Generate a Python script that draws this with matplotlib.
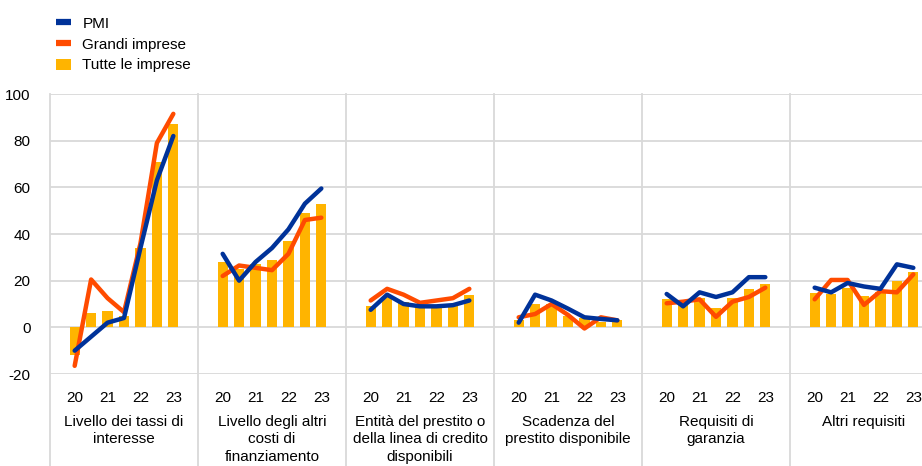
import matplotlib
matplotlib.use("Agg")
import matplotlib.pyplot as plt
import numpy as np

plt.rcParams['font.family'] = ['Liberation Sans', 'DejaVu Sans']
plt.rcParams['axes.unicode_minus'] = False

categories = ["Livello dei tassi di\ninteresse",
              "Livello degli altri\ncosti di\nfinanziamento",
              "Entità del prestito o\ndella linea di credito\ndisponibili",
              "Scadenza del\nprestito disponibile",
              "Requisiti di\ngaranzia",
              "Altri requisiti"]
year_labels = ["20", "21", "22", "23"]

tutte = [
    [-12, 6, 7, 5, 34, 71, 87],
    [28, 25, 27, 29, 37, 49, 53],
    [9, 13, 11, 9, 9, 9, 14],
    [3, 10, 10, 5, 4, 2.5, 3],
    [12, 10, 12.5, 8.5, 12.5, 16.5, 18.5],
    [14.7, 14.3, 17, 13.4, 15, 20, 23.7],
]
pmi = [
    [-10, -4, 2, 4, 34, 63, 82],
    [31.5, 20, 28, 34, 42, 53, 59.5],
    [7.5, 14, 10, 9, 9, 9.5, 11.5],
    [2, 14, 11.5, 8, 4.3, 3.6, 3],
    [14.3, 9, 15, 13, 15, 21.5, 21.5],
    [17, 15, 19, 17.5, 16.5, 27, 25.5],
]
grandi = [
    [-16.5, 20.5, 12.5, 6.5, 36, 79, 91.5],
    [22, 26.5, 25.5, 24.5, 31.5, 46, 47],
    [11.5, 16.5, 14, 10.5, 11.5, 12.5, 16.5],
    [4.3, 5.7, 10, 5.3, -0.5, 4.3, 3],
    [10.3, 11, 12, 4.5, 11, 13, 17],
    [12, 20.3, 20.3, 9.6, 15.5, 15, 22.7],
]

BLUE = "#003299"
ORANGE = "#ff4b00"
YELLOW = "#ffb400"
GRID = "#d9d9d9"

fig = plt.figure(figsize=(9.22, 4.66), dpi=100)
ax = fig.add_axes([50/922, 92/466, 888/922, 280/466])

slots = 9
for g in range(len(categories)):
    xs = np.arange(7) + g*slots + 1
    ax.bar(xs, tutte[g], width=0.62, color=YELLOW, zorder=2,
           label="Tutte le imprese" if g == 0 else None)
    ax.plot(xs, pmi[g], color=BLUE, lw=3.2, solid_capstyle='round', zorder=4,
            label="PMI" if g == 0 else None)
    ax.plot(xs, grandi[g], color=ORANGE, lw=3.2, solid_capstyle='round', zorder=3,
            label="Grandi imprese" if g == 0 else None)

ax.set_xlim(-0.5, slots*len(categories) - 0.5)
ax.set_ylim(-20, 100)
ax.set_yticks(np.arange(-20, 101, 20))
ax.tick_params(axis='y', length=0, pad=14, labelsize=11)
for v in np.arange(-20, 101, 20):
    ax.axhline(v, color=GRID, lw=1.3, zorder=1)

for g in range(len(categories) + 1):
    ax.axvline(g*slots - 0.5, ymin=-0.33, ymax=1.0, color=GRID, lw=1.3,
               clip_on=False, zorder=1)

ticks = []
labels = []
for g in range(len(categories)):
    for j, lab in enumerate(year_labels):
        ticks.append(g*slots + 1 + 2*j)
        labels.append(lab)
ax.set_xticks(ticks)
ax.set_xticklabels(labels, fontsize=11)
ax.tick_params(axis='x', length=0, pad=12)

for g, cat in enumerate(categories):
    ax.text(g*slots + 4, -0.145, cat, transform=ax.get_xaxis_transform(),
            ha='center', va='top', fontsize=11, linespacing=1.35)

for s in ax.spines.values():
    s.set_visible(False)

h, l = ax.get_legend_handles_labels()
order = [l.index("PMI"), l.index("Grandi imprese"), l.index("Tutte le imprese")]
leg = fig.legend([h[i] for i in order], [l[i] for i in order],
                 loc='upper left', bbox_to_anchor=(42/922, 1 - 3/466),
                 frameon=False, fontsize=11, handlelength=1.0,
                 handletextpad=0.75, labelspacing=0.45)
for line in leg.get_lines():
    line.set_linewidth(4.5)
    line.set_solid_capstyle('butt')

fig.savefig("out.png", dpi=100)
